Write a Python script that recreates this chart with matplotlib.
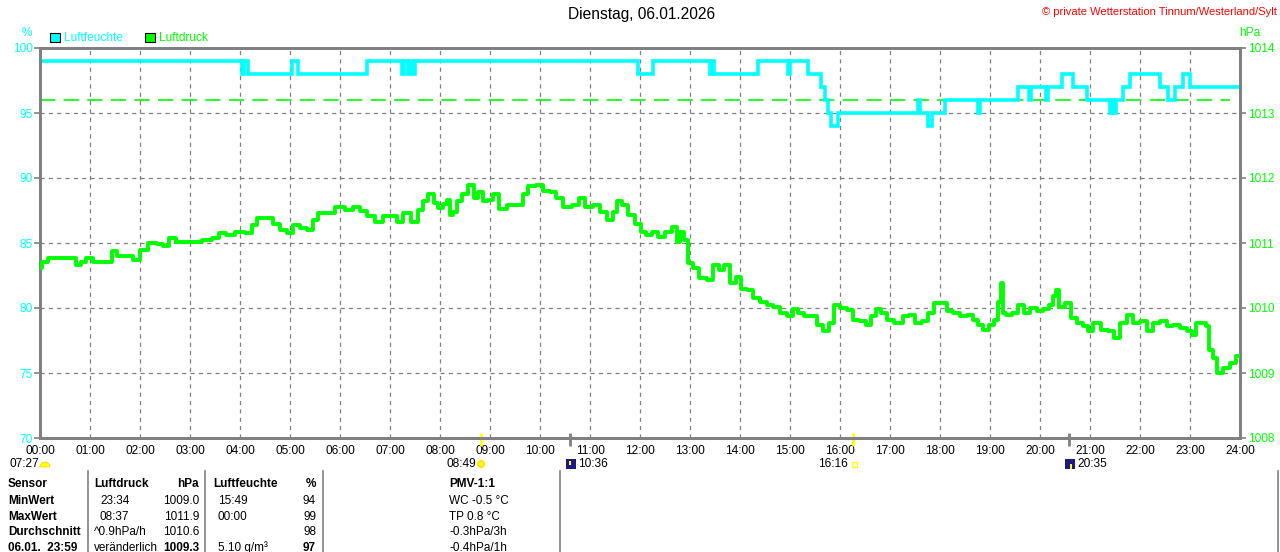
import matplotlib
matplotlib.use('Agg')
import matplotlib.pyplot as plt
import matplotlib.transforms as mtransforms
from matplotlib.patches import Rectangle, Wedge

plt.rcParams['font.family'] = ['Liberation Sans', 'DejaVu Sans']
plt.rcParams['lines.scale_dashes'] = False

# ---------------- data ----------------
title = "Dienstag, 06.01.2026"
copyright_text = "© private Wetterstation Tinnum/Westerland/Sylt"

hour_labels = [f"{h:02d}:00" for h in range(25)]
hum_ticks = [70, 75, 80, 85, 90, 95, 100]
press_ticks = [1008, 1009, 1010, 1011, 1012, 1013, 1014]
hum_reference = 96

# humidity (%) step data, minutes since midnight
hum_minutes = [0, 242, 245, 250, 302, 310, 392, 434, 437, 441, 444, 447, 450,
               718, 735, 804, 806, 809, 862, 898, 900, 922, 937, 942, 946, 949,
               958, 1054, 1056, 1066, 1070, 1086, 1126, 1128, 1174, 1187, 1189,
               1207, 1210, 1226, 1239, 1256, 1284, 1286, 1289, 1291, 1300, 1308,
               1344, 1354, 1362, 1372, 1380, 1440]
hum_values = [99, 98, 99, 98, 99, 98, 99, 98, 99, 98, 99, 98, 99,
              98, 99, 98, 99, 98, 99, 98, 99, 98, 97, 96, 95, 94,
              95, 96, 95, 94, 95, 96, 95, 96, 97, 96, 97,
              96, 97, 98, 97, 96, 95, 96, 95, 96, 97, 98,
              97, 96, 97, 98, 97, 97]

# air pressure (hPa), minutes since midnight
press_minutes = [0, 4, 16, 28, 40, 46, 52, 58, 68, 84, 88, 96, 108, 116, 124,
                 136, 144, 152, 158, 168, 188, 200, 212, 218, 228, 240, 252,
                 256, 264, 276, 284, 292, 300, 308, 316, 324, 330, 336, 348,
                 360, 372, 380, 388, 396, 408, 416, 424, 432, 440, 450, 456,
                 462, 470, 476, 480, 486, 490, 494, 498, 502, 510, 517, 524,
                 528, 534, 540, 546, 556, 564, 576, 582, 590, 600, 608, 616,
                 622, 632, 644, 650, 658, 668, 676, 684, 690, 694, 702, 710,
                 718, 724, 730, 738, 746, 754, 762, 766, 770, 776, 780, 786,
                 796, 804, 812, 818, 824, 832, 838, 844, 852, 860, 868, 876,
                 884, 892, 900, 906, 914, 920, 928, 936, 944, 950, 956, 964,
                 972, 978, 988, 994, 1000, 1006, 1012, 1020, 1030, 1040, 1046,
                 1054, 1062, 1070, 1076, 1084, 1092, 1100, 1108, 1116, 1122,
                 1128, 1136, 1142, 1148, 1152, 1154, 1156, 1162, 1170, 1178,
                 1184, 1192, 1200, 1208, 1214, 1218, 1220, 1226, 1234, 1240,
                 1248, 1256, 1260, 1268, 1278, 1286, 1292, 1300, 1308, 1316,
                 1324, 1332, 1340, 1348, 1356, 1364, 1372, 1380, 1384, 1390,
                 1396, 1402, 1404, 1410, 1414, 1424, 1432, 1438]
press_values = [1010.61, 1010.71, 1010.77, 1010.77, 1010.77, 1010.66, 1010.71,
                1010.77, 1010.71, 1010.71, 1010.88, 1010.80, 1010.80, 1010.74,
                1010.89, 1011.00, 1010.98, 1010.95, 1011.08, 1011.02, 1011.02,
                1011.05, 1011.08, 1011.15, 1011.13, 1011.17, 1011.15, 1011.28,
                1011.39, 1011.39, 1011.30, 1011.20, 1011.15, 1011.28, 1011.23,
                1011.20, 1011.35, 1011.46, 1011.46, 1011.56, 1011.51, 1011.56,
                1011.49, 1011.41, 1011.33, 1011.41, 1011.41, 1011.33, 1011.46,
                1011.33, 1011.51, 1011.64, 1011.76, 1011.62, 1011.54, 1011.60,
                1011.66, 1011.43, 1011.48, 1011.64, 1011.76, 1011.90, 1011.69,
                1011.79, 1011.64, 1011.66, 1011.76, 1011.53, 1011.59, 1011.59,
                1011.76, 1011.87, 1011.89, 1011.80, 1011.79, 1011.69, 1011.56,
                1011.58, 1011.69, 1011.56, 1011.58, 1011.48, 1011.35, 1011.48,
                1011.64, 1011.58, 1011.43, 1011.30, 1011.17, 1011.13, 1011.17,
                1011.10, 1011.17, 1011.25, 1011.02, 1011.17, 1011.05, 1010.69,
                1010.61, 1010.46, 1010.43, 1010.66, 1010.58, 1010.66, 1010.38,
                1010.48, 1010.30, 1010.28, 1010.15, 1010.10, 1010.05, 1010.02,
                1009.92, 1009.87, 1009.98, 1009.92, 1009.87, 1009.87, 1009.74,
                1009.64, 1009.77, 1010.05, 1010.00, 1009.97, 1009.82, 1009.80,
                1009.74, 1009.87, 1009.98, 1009.92, 1009.82, 1009.77, 1009.87,
                1009.90, 1009.77, 1009.80, 1009.92, 1010.08, 1010.08, 1009.95,
                1009.92, 1009.87, 1009.90, 1009.82, 1009.74, 1009.66, 1009.74,
                1009.82, 1010.10, 1010.38, 1009.92, 1009.90, 1009.92, 1010.05,
                1009.92, 1010.00, 1009.95, 1009.98, 1010.05, 1010.18, 1010.28,
                1010.02, 1010.08, 1009.85, 1009.77, 1009.72, 1009.64, 1009.77,
                1009.66, 1009.64, 1009.54, 1009.77, 1009.90, 1009.77, 1009.80,
                1009.64, 1009.77, 1009.80, 1009.72, 1009.74, 1009.69, 1009.64,
                1009.59, 1009.77, 1009.77, 1009.72, 1009.35, 1009.23, 1009.00,
                1009.08, 1009.15, 1009.26]

# sun / moon events (minutes since midnight)
event_minutes = [529, 636, 976, 1235]
event_labels = ["08:49", "10:36", "16:16", "20:35"]
event_colors = ["#FFFF00", "#808080", "#FFFF00", "#808080"]
dawn_label = "07:27"

table_rows = [
    ["Sensor", "Luftdruck", "hPa", "Luftfeuchte", "%", "PMV-1:1"],
    ["MinWert", "23:34", "1009.0", "15:49", "94", "WC -0.5 °C"],
    ["MaxWert", "08:37", "1011.9", "00:00", "99", "TP 0.8 °C"],
    ["Durchschnitt", "^0.9hPa/h", "1010.6", "", "98", "-0.3hPa/3h"],
    ["06.01.  23:59", "veränderlich", "1009.3", "5.10 g/m³", "97", "-0.4hPa/1h"],
]

# ---------------- styling ----------------
W, H = 1280, 552
CYAN = "#00FFFF"
GREEN = "#00FF00"
GRAY = "#808080"
FS = 8.6
TFS = 8.5

fig = plt.figure(figsize=(W / 100, H / 100), dpi=100)
fig.patch.set_facecolor("white")
ax = fig.add_axes([40 / W, 1 - 438 / H, 1200 / W, 390 / H])
ax2 = ax.twinx()


def ftext(x, y, s, **kw):
    kw.setdefault("fontsize", FS)
    kw.setdefault("va", "center")
    fig.text(x / W, 1 - y / H, s, **kw)


ax.set_xlim(0, 1440)
ax.set_ylim(70, 100)
ax2.set_ylim(1008, 1014)
ax.set_xticks([h * 60 for h in range(25)])
ax.set_xticklabels(hour_labels, fontsize=FS, color="black")
ax.set_yticks(hum_ticks)
ax.set_yticklabels([str(v) for v in hum_ticks], fontsize=FS, color=CYAN)
ax2.set_yticks(press_ticks)
ax2.set_yticklabels([str(v) for v in press_ticks], fontsize=FS, color=GREEN)
ax.tick_params(axis="x", length=0, pad=5)
ax.tick_params(axis="y", length=4, width=1.2, color=GRAY, pad=1)
ax2.tick_params(axis="y", length=4, width=1.2, color=GRAY, pad=2)

for a in (ax, ax2):
    for sp in a.spines.values():
        sp.set_color(GRAY)
        sp.set_linewidth(2.0)

ax.grid(True, color=GRAY, linestyle=(0, (3, 3)), linewidth=0.9)
ax.set_axisbelow(True)

ax.axhline(hum_reference, xmin=0, xmax=1190 / 1200, color=GREEN,
           linewidth=1.2, linestyle=(0, (11, 6)), zorder=2)
ax.plot(hum_minutes, hum_values, color=CYAN, linewidth=2.6,
        drawstyle="steps-post", zorder=3, solid_joinstyle="miter")
ax2.plot(press_minutes, press_values, color=GREEN, linewidth=2.8, zorder=3,
         drawstyle="steps-mid")

# event markers below axis
trans = mtransforms.blended_transform_factory(ax.transData, ax.transAxes)
for m, c in zip(event_minutes, event_colors):
    ax.plot([m, m], [0.013, -0.021], transform=trans, color=c,
            linewidth=2.0, clip_on=False, solid_capstyle="butt")

# titles / labels
ftext(642, 15, title, ha="center", fontsize=11.2)
ftext(1277, 12, copyright_text, ha="right", color="red", fontsize=8.0)
ftext(27, 33, "%", ha="center", color=CYAN)
ftext(1250, 33, "hPa", ha="center", color=GREEN)

# legend
fig.patches.append(Rectangle((50, H - 42), 10, 9, transform=None,
                             facecolor=CYAN, edgecolor="black", lw=0.8))
ftext(64, 38, "Luftfeuchte", color=CYAN)
fig.patches.append(Rectangle((145, H - 42), 10, 9, transform=None,
                             facecolor=GREEN, edgecolor="black", lw=0.8))
ftext(159, 38, "Luftdruck", color=GREEN)

# sun / moon row
ftext(10, 464, dawn_label, ha="left")
fig.patches.append(Wedge((45, H - 467), 5, 0, 180, transform=None,
                         facecolor="#FFFF00", edgecolor="#FFD000", lw=0.5))
ftext(476, 464, event_labels[0], ha="right")
fig.patches.append(plt.Circle((481, H - 464), 3.2, transform=None,
                              facecolor="#FFFF00", edgecolor="#FFE000", lw=1.2))
fig.patches.append(Rectangle((566, H - 469), 10, 10, transform=None,
                             facecolor="#1A1A80", edgecolor="none"))
fig.patches.append(Rectangle((569, H - 465), 2, 4, transform=None,
                             facecolor="#FFFF00", edgecolor="none"))
ftext(578, 464, event_labels[1], ha="left")
ftext(848, 464, event_labels[2], ha="right")
fig.patches.append(Rectangle((852, H - 467), 5, 5, transform=None,
                             facecolor="white", edgecolor="#FFFF00", lw=0.9))
fig.patches.append(Rectangle((1065, H - 469), 10, 10, transform=None,
                             facecolor="#1A1A80", edgecolor="none"))
fig.patches.append(Rectangle((1070, H - 469), 2, 5, transform=None,
                             facecolor="#FFFF00", edgecolor="none"))
ftext(1077, 464, event_labels[3], ha="left")

# table
for xv in (88, 205, 323, 560, 1278):
    fig.add_artist(plt.Line2D([xv / W, xv / W], [1 - 471 / H, 0],
                              color=GRAY, linewidth=1.2))

row_y = [484, 501, 517, 532, 548]
for r, (row, y) in enumerate(zip(table_rows, row_y)):
    hdr = (r == 0)
    ftext(8, y, row[0], ha="left", fontweight="bold", fontsize=TFS)
    ftext(94 if (hdr or r in (3, 4)) else 100, y, row[1], ha="left",
          fontweight="bold" if hdr else "normal", fontsize=TFS)
    ftext(199, y, row[2], ha="right",
          fontweight="bold" if (hdr or r == 4) else "normal", fontsize=TFS)
    ftext(213 if hdr else 218, y, row[3], ha="left",
          fontweight="bold" if hdr else "normal", fontsize=TFS)
    ftext(316, y, row[4], ha="right",
          fontweight="bold" if (hdr or r == 4) else "normal", fontsize=TFS)
    ftext(449, y, row[5], ha="left",
          fontweight="bold" if hdr else "normal", fontsize=TFS)

fig.savefig("out.png", dpi=100, facecolor="white")
